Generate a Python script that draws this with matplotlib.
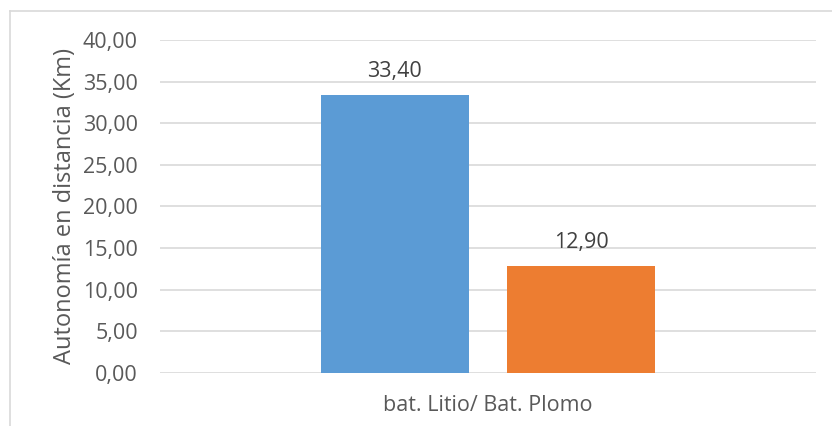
import matplotlib.pyplot as plt
from matplotlib.lines import Line2D
import numpy as np

categories = ["bat. Litio/ Bat. Plomo"]
litio = [33.40]
plomo = [12.90]
y_ticks = [0, 5, 10, 15, 20, 25, 30, 35, 40]

plt.rcParams['font.family'] = ['Open Sans', 'DejaVu Sans']
txt = '#595959'
grid = '#d9d9d9'

fig = plt.figure(figsize=(8.32, 4.26), dpi=100)
ax = fig.add_axes([160/832, 1-373/426, 656/832, 333/426])

x = np.arange(len(categories))
w = 0.2256
b1 = ax.bar(x - 0.1425, litio, w, color='#5b9bd5', zorder=3)
b2 = ax.bar(x + 0.1425, plomo, w, color='#ed7d31', zorder=3)

for bars in (b1, b2):
    for r in bars:
        ax.annotate(f"{r.get_height():.2f}".replace('.', ','),
                    (r.get_x() + r.get_width()/2, r.get_height()),
                    xytext=(0, 13), textcoords='offset points',
                    ha='center', va='baseline', fontsize=15.5, color='#404040')

ax.set_xlim(-0.5, 0.5)
ax.set_ylim(0, 40)
ax.set_yticks(y_ticks)
ax.set_yticklabels([f"{v:.2f}".replace('.', ',') for v in y_ticks])
ax.set_xticks(x)
ax.set_xticklabels(categories)
ax.tick_params(axis='both', length=0, labelsize=15.5, colors=txt)
ax.tick_params(axis='y', pad=16)
ax.tick_params(axis='x', pad=16)
ax.yaxis.grid(True, color=grid, linewidth=1.2, zorder=0)
for s in ax.spines.values():
    s.set_visible(False)
ax.set_ylabel("Autonomía en distancia (Km)", fontsize=17, color=txt, labelpad=4)

# chart frame
fig.add_artist(Line2D([10/832, 10/832], [0, 1-11/426], color=grid, lw=1.2))
fig.add_artist(Line2D([10/832, 1], [1-11/426, 1-11/426], color=grid, lw=1.2))

fig.savefig('out.png', dpi=100)
